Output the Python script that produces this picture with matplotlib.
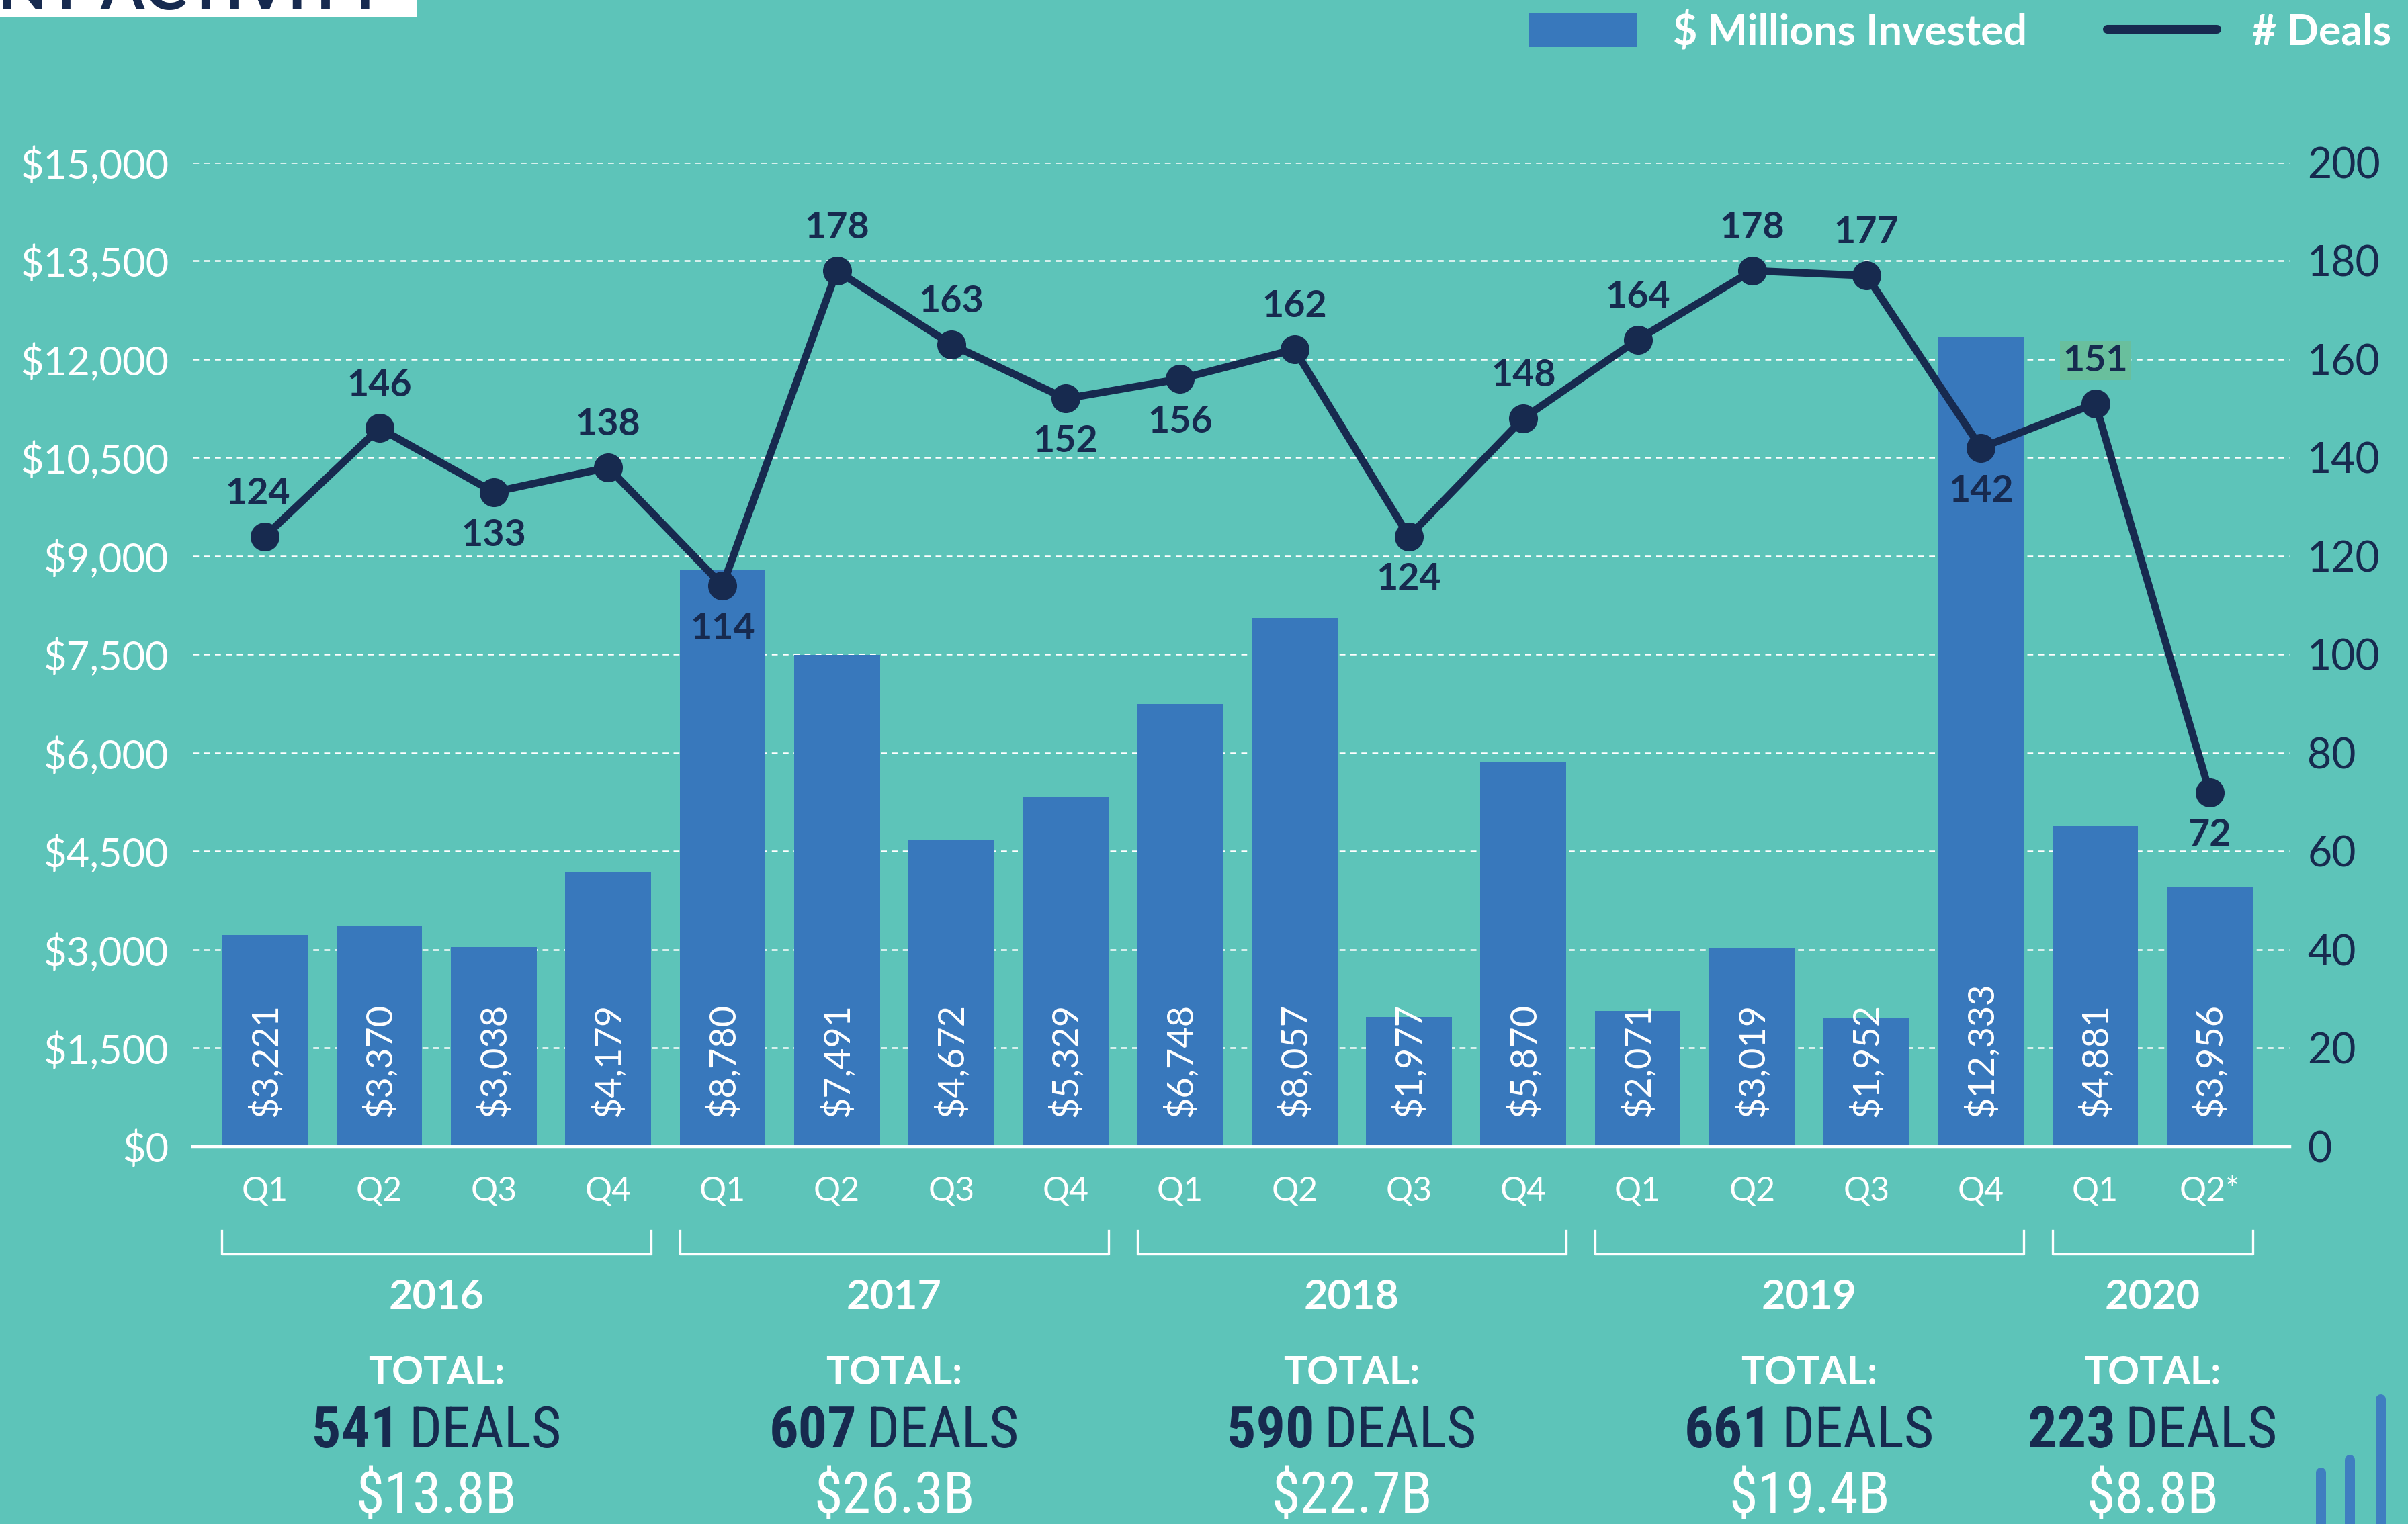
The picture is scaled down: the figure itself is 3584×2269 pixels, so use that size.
import matplotlib
matplotlib.use('Agg')
import matplotlib.pyplot as plt
from matplotlib import font_manager
from matplotlib.lines import Line2D
from matplotlib.patches import Patch, Rectangle
from matplotlib.offsetbox import TextArea, HPacker, AnnotationBbox
import numpy as np

# quarterly data
quarters = ['Q1', 'Q2', 'Q3', 'Q4', 'Q1', 'Q2', 'Q3', 'Q4', 'Q1', 'Q2', 'Q3', 'Q4',
            'Q1', 'Q2', 'Q3', 'Q4', 'Q1', 'Q2*']
invested = [3221, 3370, 3038, 4179, 8780, 7491, 4672, 5329, 6748, 8057, 1977, 5870,
            2071, 3019, 1952, 12333, 4881, 3956]
deals = [124, 146, 133, 138, 114, 178, 163, 152, 156, 162, 124, 148,
         164, 178, 177, 142, 151, 72]
label_side = ['up', 'up', 'down', 'up', 'down', 'up', 'up', 'down', 'down', 'up', 'down', 'up',
              'up', 'up', 'up', 'down', 'up', 'down']

# yearly totals
years = ['2016', '2017', '2018', '2019', '2020']
quarters_per_year = [4, 4, 4, 4, 2]
year_deals = [541, 607, 590, 661, 223]
year_invested = ['$13.8B', '$26.3B', '$22.7B', '$19.4B', '$8.8B']

teal = '#5DC4B9'
blue = '#3878BC'
navy = '#172A4F'

plt.rcParams['font.family'] = ['Lato', 'DejaVu Sans']

installed = {f.name for f in font_manager.fontManager.ttflist}
narrow = 'Liberation Sans'
for name in ['Roboto Condensed', 'Liberation Sans Narrow', 'DejaVu Sans Condensed']:
    if name in installed:
        narrow = name
        break

fig = plt.figure(figsize=(17.92, 11.345), dpi=200, facecolor=teal)
ax = fig.add_axes([0.0801, 0.2477, 0.8708, 0.6457])
ax.set_facecolor('none')

x = np.arange(len(quarters))
bar_w = 0.75
ax.bar(x, invested, width=bar_w, color=blue, zorder=2)
ax.set_xlim(-0.63, 17.7)
ax.set_ylim(0, 15000)
yt = np.arange(0, 15001, 1500)
ax.set_yticks(yt, [f'${v:,}' for v in yt])
ax.tick_params(axis='y', length=0, pad=13, labelsize=21.5, labelcolor='white')
ax.set_xticks(x, quarters)
ax.tick_params(axis='x', length=0, pad=16, labelsize=18, labelcolor='white')
ax.grid(axis='y', color='white', lw=0.9, ls=(0, (3.5, 3)))
ax.set_axisbelow(True)
for s in ['top', 'left', 'right']:
    ax.spines[s].set_visible(False)
ax.spines['bottom'].set_color('white')
ax.spines['bottom'].set_linewidth(1.6)

for xi, v in zip(x, invested):
    ax.annotate(f'${v:,}', (xi, 0), xytext=(0, 16), textcoords='offset points',
                rotation=90, ha='center', va='bottom', color='white', fontsize=19.5)

# deals line on the right axis
ax2 = ax.twinx()
ax2.plot(x, deals, color=navy, lw=4, marker='o', ms=14.5, zorder=3)
ax2.set_ylim(0, 200)
ax2.set_yticks(range(0, 201, 20))
ax2.tick_params(axis='y', length=0, pad=9.5, labelsize=22.5, labelcolor=navy)
for s in ax2.spines.values():
    s.set_visible(False)

for xi, d, side in zip(x, deals, label_side):
    dy = 23 if side == 'up' else -23
    dx = -4 if xi == 0 else 0
    box = dict(boxstyle='square,pad=0.08', fc='#69BF9D', ec='none') if xi == 16 else None
    ax2.annotate(str(d), (xi, d), xytext=(dx, dy), textcoords='offset points',
                 ha='center', va='center', fontsize=20, fontweight='bold', color=navy, bbox=box)

# year brackets and totals
tr = ax.get_xaxis_transform()
start = 0
for year, n, td, ti in zip(years, quarters_per_year, year_deals, year_invested):
    x0 = start - bar_w / 2
    x1 = start + n - 1 + bar_w / 2
    xc = start + (n - 1) / 2
    ax.plot([x0, x0, x1, x1], [-0.0853, -0.1092, -0.1092, -0.0853], transform=tr,
            color='white', lw=1.2, clip_on=False)
    ax.text(xc, -0.1652, year, transform=tr, ha='center', va='baseline',
            fontsize=22, fontweight='bold', color='white')
    ax.text(xc, -0.2416, 'TOTAL:', transform=tr, ha='center', va='baseline',
            fontsize=21, fontweight='bold', color='white')
    num = TextArea(str(td), textprops=dict(color=navy, fontsize=31, fontweight='bold', family=narrow))
    lab = TextArea('DEALS', textprops=dict(color=navy, fontsize=31, family=narrow))
    pack = HPacker(children=[num, lab], pad=0, sep=5, align='baseline')
    ab = AnnotationBbox(pack, (xc, -0.29), xycoords=tr, box_alignment=(0.5, 0.5),
                        frameon=False, annotation_clip=False)
    ax.add_artist(ab)
    ax.text(xc, -0.372, ti, transform=tr, ha='center', va='baseline',
            fontsize=31, color='white', family=narrow)
    start += n

# legend
handles = [Patch(facecolor=blue, label='$ Millions Invested'),
           Line2D([], [], color=navy, lw=4.7, solid_capstyle='round', label='# Deals')]
fig.legend(handles=handles, loc='upper right', bbox_to_anchor=(0.993, 0.992), ncol=2,
           frameon=False, prop={'weight': 'bold', 'size': 22.5}, labelcolor='white',
           handlelength=2.6, handleheight=0.85, handletextpad=0.85, columnspacing=1.9,
           borderpad=0, borderaxespad=0)

# cut-off title box top left
fig.patches.append(Rectangle((0, 1 - 26 / 2269), 620 / 3584, 26 / 2269, transform=fig.transFigure,
                             facecolor='white', edgecolor='none'))
fig.text(574 / 3584, 1 - 14 / 2269, 'INVESTMENT ACTIVITY', ha='right', va='baseline',
         fontsize=34, fontweight='bold', color=navy)

# little bar decoration bottom right
for xx, top in zip([3454, 3497, 3543, 3590], [2192, 2173, 2083, 2105]):
    fig.add_artist(Line2D([xx / 3584] * 2, [1 - top / 2269, -0.02], transform=fig.transFigure,
                          color='#3F7EC0', lw=5.4, solid_capstyle='round'))

fig.savefig('out.png', dpi=200, facecolor=teal)
